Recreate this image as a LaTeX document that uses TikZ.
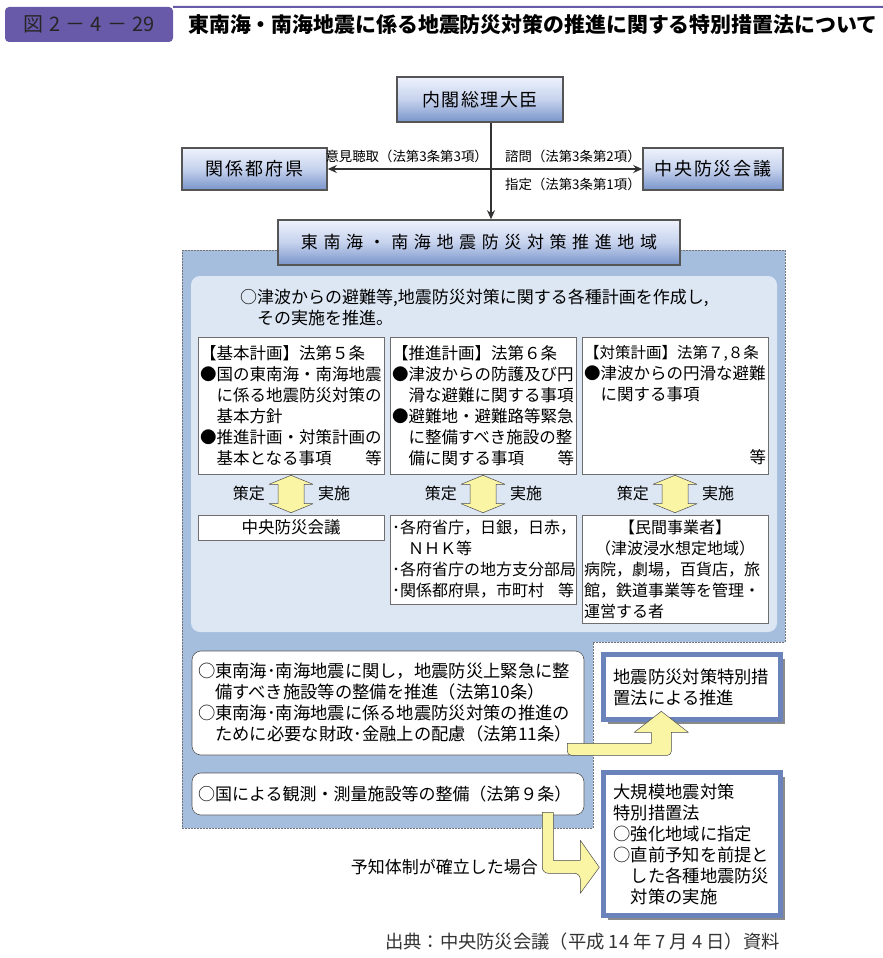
\documentclass[tikz,border=0pt]{standalone}
\usepackage{fontspec}
\setmainfont{Noto Sans CJK JP}
\usepackage{xcolor}
\usetikzlibrary{arrows.meta, positioning, calc, shadows}

\definecolor{titlepurple}{RGB}{104,90,168}
\definecolor{zoneblue}{RGB}{166,190,222}
\definecolor{panelblue}{RGB}{221,231,243}
\definecolor{framegray}{RGB}{85,85,85}
\definecolor{lawblue}{RGB}{106,132,187}
\definecolor{gradtop}{RGB}{238,242,252}
\definecolor{gradmid}{RGB}{198,210,237}
\definecolor{gradbot}{RGB}{120,148,202}
\definecolor{arrowyellow}{RGB}{250,244,165}

\newcommand{\jfs}[1]{\fontsize{#1}{21}\selectfont}

% two-way fat arrow between a plan box and the body below it
\newcommand{\bothway}[3]{%
  \coordinate (up#3) at ($(#1.south)+(0,1)$);
  \coordinate (dn#3) at ($(#2.north)+(0,-2)$);
  \filldraw[fatarrow] (up#3) -- ++(22,9) -- ++(-9,0) -- ($(dn#3)+(13,-9)$) -- ++(9,0)
    -- (dn#3) -- ++(-22,-9) -- ++(9,0) -- ($(up#3)+(-13,9)$) -- ++(-9,0) -- cycle;
  \node[anchor=east, font=\jfs{16}, inner sep=0pt] (sakutei#3) at ($(up#3)!0.5!(dn#3)+(-26,-1)$) {策定};
  \node[anchor=west, font=\jfs{16}, inner sep=0pt] (jisshi#3) at ($(up#3)!0.5!(dn#3)+(27,-1)$) {実施};}

\begin{document}
\begin{tikzpicture}[x=1pt, y=-1pt,
  headbox/.style={draw=framegray, line width=1.6pt, top color=gradtop, bottom color=gradbot, middle color=gradmid, inner sep=0pt},
  planbox/.style={draw=framegray!85, line width=0.6pt, fill=white, inner xsep=2pt, inner ysep=0pt, text width=182pt, align=left},
  roundbox/.style={draw=framegray, line width=0.6pt, fill=white, rounded corners=9pt, inner xsep=6pt, inner ysep=0pt, text width=380pt, minimum width=392pt, align=left},
  lawbox/.style={draw=lawblue, line width=5pt, fill=white, inner xsep=10pt, inner ysep=0pt, text width=157pt, align=left, font=\jfs{17.3},
    drop shadow={shadow xshift=4pt, shadow yshift=-4pt, fill=black!65, opacity=0.7}},
  fatarrow/.style={fill=arrowyellow, draw=black!70, line width=0.5pt, line join=round},
  lawlabel/.style={font=\jfs{13.4}, inner sep=0pt}
]
\useasboundingbox (0,0) rectangle (883,958);

% title bar
\node[fill=titlepurple, rounded corners=4pt, minimum width=168pt, minimum height=35pt, inner sep=0pt, font=\jfs{20}, text=black!85] (fignum) at (89,24.5) {図\hspace{6pt}2\hspace{5pt}－\hspace{5pt}4\hspace{5pt}－\hspace{5pt}29};
\draw[titlepurple, line width=2pt] (fignum.north east) -- (883,7);
\node[anchor=west, font=\bfseries\jfs{20.9}, inner sep=0pt] (title) at (188,25) {東南海・南海地震に係る地震防災対策の推進に関する特別措置法について};

% region
\draw[fill=zoneblue, draw=black!55, line width=0.5pt, dash pattern=on 2pt off 1pt]
  (182,250) -- (785,250) -- (785,642) -- (593,642) -- (593,828) -- (182,828) -- cycle;
\fill[panelblue, rounded corners=9pt] (191,276) rectangle (777,632);

% government
\node[headbox, minimum width=166pt, minimum height=45pt, font=\jfs{18}] (pm) at (480,99.5) {\addfontfeature{LetterSpace=8}内閣総理大臣};
\node[headbox, minimum width=145pt, minimum height=42pt, font=\jfs{18}] (pref) at (254.5,169) {\addfontfeature{LetterSpace=12}関係都府県};
\node[headbox, minimum width=140pt, minimum height=42pt, font=\jfs{18}] (cdm) at (713,169) {\addfontfeature{LetterSpace=10}中央防災会議};
\node[headbox, minimum width=402pt, minimum height=45pt, font=\jfs{17}] (area) at (479,242.5) {\addfontfeature{LetterSpace=33}東南海・南海地震防災対策推進地域};

\coordinate (drop) at ($(pm.south)+(11,0)$);
\draw[-{Stealth[length=9pt,width=8pt]}, line width=1.5pt, black!80] (drop) -- (drop |- area.north);
\draw[{Stealth[length=9pt,width=8pt]}-{Stealth[length=9pt,width=8pt]}, line width=1.5pt, black!80]
  (pref.east) -- (cdm.west);
\node[lawlabel, anchor=east] (hear) at (488,156) {意見聴取（法第3条第3項）};
\node[lawlabel, anchor=west] (consult) at (505,156) {諮問（法第3条第2項）};
\node[lawlabel, anchor=west] (assign) at (505,184) {指定（法第3条第1項）};

% plans
\node[anchor=north west, inner sep=0pt, align=left, font=\jfs{17}] (intro) at (240,288.5)
  {○津波からの避難等,地震防災対策に関する各種計画を作成し,\\　その実施を推進。};

\node[planbox, minimum height=137pt, font=\jfs{16.5}] (basic) at (291,405.5)
  {【基本計画】法第５条\\●国の東南海・南海地震\\　に係る地震防災対策の\\　基本方針\\●推進計画・対策計画の\\　基本となる事項\hfill 等};
\node[planbox, minimum height=137pt, font=\jfs{16.5}] (promo) at (483,405.5)
  {【推進計画】法第６条\\●津波からの防護及び円\\　滑な避難に関する事項\\●避難地・避難路等緊急\\　に整備すべき施設の整\\　備に関する事項\hfill 等};
\node[planbox, minimum height=137pt, font=\jfs{16.5}] (measure) at (675,405.5)
  {{\jfs{15.5}【対策計画】法第７,８条}\\●津波からの円滑な避難\\　に関する事項\\\mbox{}\\\mbox{}\\\mbox{}\hfill 等};

\node[planbox, minimum height=25pt, align=center, font=\jfs{16.5}] (council) at (291,527.5) {中央防災会議};
\node[planbox, minimum height=89pt, font=\jfs{16}] (agency) at (483,559.5)
  {･各府省庁，日銀，日赤，\\　ＮＨＫ等\\･各府省庁の地方支分部局\\･関係都府県，市町村\hfill 等};
\node[planbox, minimum height=108pt, font=\jfs{16}] (private) at (675,569)
  {\hfill【民間事業者】\hfill\mbox{}\\\hfill（津波浸水想定地域）\hfill\mbox{}\\病院，劇場，百貨店，旅\\館，鉄道事業等を管理・\\運営する者};

\bothway{basic}{council}{1}
\bothway{promo}{agency}{2}
\bothway{measure}{private}{3}

% other measures
\node[roundbox, minimum height=104pt, font=\jfs{17.3}] (urgent) at (388,703)
  {○東南海･南海地震に関し，地震防災上緊急に整\\　備すべき施設等の整備を推進（法第10条）\\○東南海･南海地震に係る地震防災対策の推進の\\　ために必要な財政･金融上の配慮（法第11条）};
\node[roundbox, minimum height=42pt, font=\jfs{17}] (observe) at (388,794)
  {○国による観測・測量施設等の整備（法第９条）};

\node[lawbox, minimum width=177pt, minimum height=65pt] (tokusoho) at (692,687)
  {地震防災対策特別措\\置法による推進};
\node[lawbox, minimum width=177pt, minimum height=143pt] (daikibo) at (692,844)
  {大規模地震対策\\特別措置法\\○強化地域に指定\\○直前予知を前提と\\　した各種地震防災\\　対策の実施};

\coordinate (a1) at ($(urgent.south east)+(-17,-12)$);
\filldraw[fatarrow] (a1) -- ++(84,0) -- ++(0,-11) -- ++(-17,0) -- ++(27,-21) -- ++(27,21)
  -- ++(-17,0) [rounded corners=4pt] -- ++(0,23) -- ++(-104,0) [sharp corners] -- cycle;
\coordinate (a2) at ($(observe.south east)+(-42,-3)$);
\filldraw[fatarrow] (a2) [rounded corners=6pt] -- ++(0,61) -- ++(38,0) [sharp corners] -- ++(0,20)
  -- ++(19,-26) -- ++(-19,-27) -- ++(0,20) -- ++(-27,0) -- ++(0,-48) -- cycle;
\node[anchor=east, font=\jfs{17}, inner sep=0pt] (forecast) at (538,867) {予知体制が確立した場合};

\node[anchor=east, font=\jfs{18.3}, inner sep=0pt, text=black!80] (source) at (780,942) {出典：中央防災会議（平成 14 年 7 月 4 日）資料};
\end{tikzpicture}
\end{document}
